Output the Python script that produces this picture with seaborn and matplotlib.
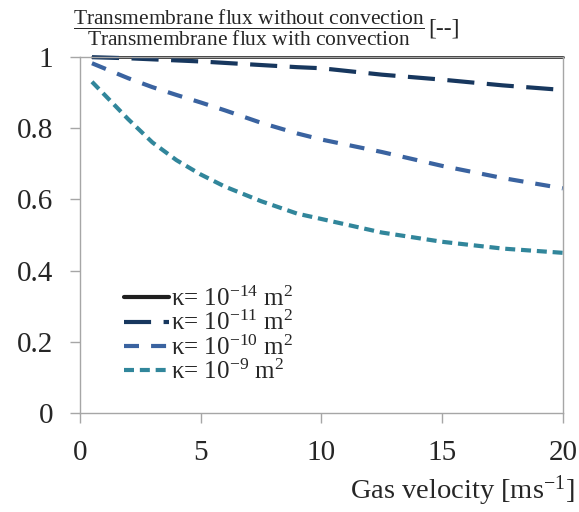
import pandas as pd
import matplotlib
matplotlib.use("Agg")
import matplotlib.pyplot as plt
import seaborn as sns

# Gas velocity [m/s]
velocity = [0.5, 2, 3, 4, 5, 6, 7.5, 9, 10, 12.5, 15, 17.5, 20]

# Flux ratio (without / with convection) per permeability
ratio_k14 = [1.0, 1.0, 1.0, 1.0, 1.0, 1.0, 1.0, 1.0, 1.0, 1.0, 1.0, 1.0, 1.0]
ratio_k11 = [0.999, 0.996, 0.993, 0.990, 0.987, 0.983, 0.977, 0.971, 0.968, 0.950, 0.936, 0.920, 0.907]
ratio_k10 = [0.982, 0.940, 0.915, 0.893, 0.872, 0.850, 0.815, 0.785, 0.768, 0.733, 0.694, 0.660, 0.631]
ratio_k9 = [0.930, 0.825, 0.760, 0.710, 0.670, 0.636, 0.595, 0.560, 0.545, 0.507, 0.481, 0.462, 0.450]

labels = [
    r"κ= 10$^{\mathrm{-14}}$ m$^{\mathrm{2}}$",
    r"κ= 10$^{\mathrm{-11}}$ m$^{\mathrm{2}}$",
    r"κ= 10$^{\mathrm{-10}}$ m$^{\mathrm{2}}$",
    r"κ= 10$^{\mathrm{-9}}$ m$^{\mathrm{2}}$",
]
colors = ["#1f1f1f", "#17375E", "#3A63A0", "#31869B"]

x_ticks = [0, 5, 10, 15, 20]
y_ticks = [0, 0.2, 0.4, 0.6, 0.8, 1.0]
y_tick_labels = ["0", "0.2", "0.4", "0.6", "0.8", "1"]

series = [ratio_k14, ratio_k11, ratio_k10, ratio_k9]
frames = []
for lab, vals in zip(labels, series):
    frames.append(pd.DataFrame({"velocity": velocity, "ratio": vals, "kappa": lab}))
df = pd.concat(frames, ignore_index=True)

sns.set_style("white")
plt.rcParams["font.family"] = ["Liberation Serif", "DejaVu Serif"]
plt.rcParams["mathtext.fontset"] = "custom"
plt.rcParams["mathtext.rm"] = "Liberation Serif"
plt.rcParams["mathtext.it"] = "Liberation Serif:italic"

fig = plt.figure(figsize=(5.79, 5.12), dpi=100)
ax = fig.add_axes([0.138, 0.193, 0.834, 0.696])

palette = dict(zip(labels, colors))
dashes = dict(zip(labels, ["", (6.5, 3.0), (3.6, 2.9), (2.4, 1.4)]))

sns.lineplot(
    data=df, x="velocity", y="ratio", hue="kappa", style="kappa",
    hue_order=labels, style_order=labels,
    palette=palette, dashes=dashes, linewidth=3, ax=ax,
)
for line in ax.get_lines():
    line.set_clip_on(False)
ax.get_lines()[0].set_linewidth(2)

ax.set_xlim(0, 20)
ax.set_ylim(0, 1)
ax.set_xticks(x_ticks)
ax.set_yticks(y_ticks)
ax.set_yticklabels(y_tick_labels)
ax.tick_params(axis="both", labelsize=21, color="#a6a6a6", width=1, length=7,
               direction="out", left=True, bottom=True)
ax.tick_params(axis="x", pad=12)
ax.tick_params(axis="y", pad=12)
for s in ax.spines.values():
    s.set_color("#a6a6a6")
    s.set_linewidth(1)

ax.set_ylabel("")
ax.set_xlabel(r"Gas velocity [ms$^{\mathrm{-1}}$]", fontsize=20.5, ha="right")
ax.xaxis.set_label_coords(1.025, -0.17)

handles, labs = ax.get_legend_handles_labels()
pairs = [(h, l) for h, l in zip(handles, labs) if l in labels]
leg = ax.legend(
    [p[0] for p in pairs], [p[1] for p in pairs],
    loc="lower left", bbox_to_anchor=(0.06, 0.04), frameon=False,
    fontsize=18, handlelength=1.8, handletextpad=0.1, labelspacing=0.0,
    borderpad=0.1,
)

fig.text(
    73 / 579, 1 - 28 / 512,
    r"$\dfrac{\mathrm{Transmembrane\ flux\ without\ convection}}{\mathrm{Transmembrane\ flux\ with\ convection}}$",
    fontsize=15.5, ha="left", va="center",
)
fig.text(428 / 579, 1 - 29 / 512, "[--]", fontsize=17, ha="left", va="center")

fig.savefig("out.png", dpi=100)
